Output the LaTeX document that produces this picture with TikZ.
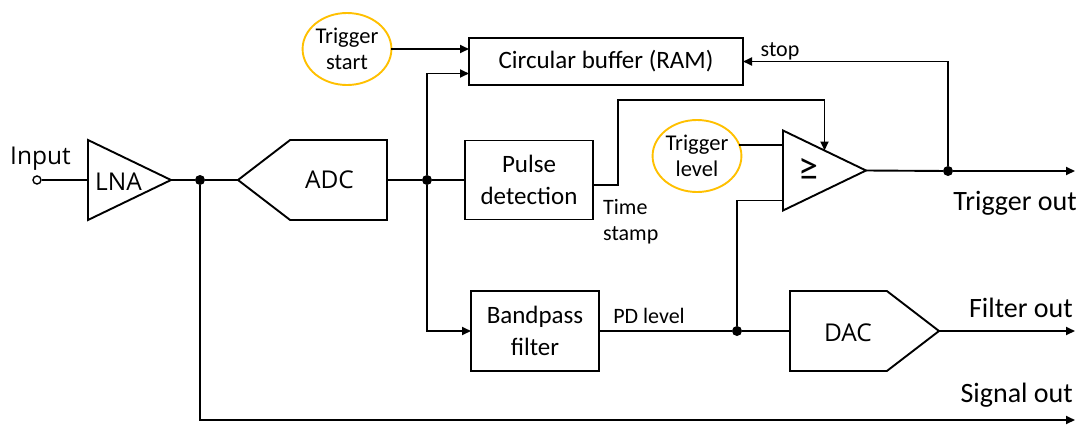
\documentclass[tikz,border=0pt]{standalone}
\usepackage{fontspec}
\setmainfont{Carlito}
\newfontfamily\opensans{Open Sans}
\usetikzlibrary{arrows.meta,shapes.geometric,shapes.symbols}

\definecolor{knobline}{RGB}{255,192,0}

\tikzset{
  wire/.style={line width=1.9pt},
  block/.style={draw, rectangle, line width=1.9pt, inner sep=0pt, outer sep=0pt,
    align=center, font=\fontsize{25}{32}\selectfont},
  amp/.style={draw, isosceles triangle, isosceles triangle stretches,
    line width=1.9pt, inner sep=0pt, outer sep=0pt,
    minimum width=80pt, minimum height=83pt},
  conv/.style={draw, signal, line width=1.9pt, inner sep=0pt, outer sep=0pt,
    signal pointer angle=75, minimum width=149pt, minimum height=80pt},
  knob/.style={draw=knobline, ellipse, line width=1.9pt, fill=white, inner sep=0pt,
    outer sep=0pt, minimum width=80pt, minimum height=72pt,
    align=center, font=\fontsize{22.5}{26.5}\selectfont},
  dot/.style={circle, fill, inner sep=0pt, minimum size=10pt},
  biglabel/.style={inner sep=0pt, font=\fontsize{28}{30}\selectfont},
  smalllabel/.style={inner sep=0pt, font=\fontsize{22}{26}\selectfont},
  sanslabel/.style={inner sep=0pt, font=\opensans\fontsize{24.5}{28}\selectfont},
}

\begin{document}
\begin{tikzpicture}[x=1pt, y=-1pt, >={Triangle[length=9pt,width=8pt]}]
\useasboundingbox (0,0) rectangle (1082,426);

% front end
\node[draw, circle, line width=1.4pt, minimum size=8pt, inner sep=0pt] (in) at (37,180) {};
\node[sanslabel, anchor=base] (in-txt) at (40.5,164) {Input};
\node[amp, anchor=west] (lna) at (88,180) {};
\node[sanslabel, anchor=base] (lna-txt) at (118.5,190) {LNA};
\node[conv, signal to=west, anchor=west] (adc) at (238,180) {};
\node[sanslabel, anchor=base] (adc-txt) at (329.5,188) {ADC};

% junctions
\foreach \n/\x/\y in {j1/200/180, j2/427/180, j3/948/171, j4/737/331}
    \node[dot] (\n) at (\x,\y) {};

% digital blocks
\node[block, minimum width=274pt, minimum height=47pt] (buffer) at (606,61.5) {Circular buffer (RAM)};
\node[block, minimum width=128pt, minimum height=79pt] (pulse) at (529,180) {Pulse\\detection};
\node[block, minimum width=128pt, minimum height=80pt] (bpf) at (535,331) {Bandpass\\filter};
\node[amp, anchor=west] (cmp) at (783,170.5) {};
\node[inner sep=0pt, font=\fontsize{40}{40}\selectfont] (cmp-txt) at (808,169) {≥};
\node[conv, signal to=east, anchor=east] (dac) at (939,331) {};
\node[sanslabel, anchor=base] (dac-txt) at (848,341) {DAC};

% user settings
\node[knob] (tstart) at (347,49) {Trigger\\start};
\node[knob] (tlevel) at (697,156) {Trigger\\level};

% outputs
\coordinate (trig-end) at (1075,171);
\coordinate (filt-end) at (1075,331);
\coordinate (sig-end) at (1075,420);
\coordinate (ts-bend) at (618,100);

% signal path
\draw[wire] (in) -- (lna.west);
\draw[wire] (lna.apex) -- (j1) -- (adc.west);
\draw[wire] (adc.east) -- (j2) -- (pulse.west);
\draw[wire, ->] (j2) |- ([yshift=-12pt]buffer.west);
\draw[wire, ->] (j2) |- (bpf.west);
\draw[wire, ->] (tstart.east) -- (tstart.east -| buffer.west);
\draw[wire, ->] ([yshift=-5pt]pulse.east) -| (ts-bend) -| (cmp.left side);
\draw[wire] (tlevel.15) -- (tlevel.15 -| cmp.west);
\draw[wire] ([yshift=-30pt]cmp.west) -| (j4);
\draw[wire] (bpf.east) -- (j4) -- (dac.west);
\draw[wire] (cmp.apex) -- (j3);
\draw[wire, ->] (j3) -- (trig-end);
\draw[wire, ->] (j3) |- (buffer.east);
\draw[wire, ->] (dac.east) -- (filt-end);
\draw[wire, ->] (j1) |- (sig-end);

% labels
\node[smalllabel, anchor=base] (stop-txt) at (780,56) {stop};
\node[smalllabel, anchor=north west, align=left] (ts-txt) at (603,199) {Time\\stamp};
\node[smalllabel, anchor=base] (pd-txt) at (649,323) {PD level};
\node[biglabel, anchor=base east] (trig-txt) at (1077,210) {Trigger out};
\node[biglabel, anchor=base east] (filt-txt) at (1073,317) {Filter out};
\node[biglabel, anchor=base east] (sig-txt) at (1073,402) {Signal out};
\end{tikzpicture}
\end{document}
